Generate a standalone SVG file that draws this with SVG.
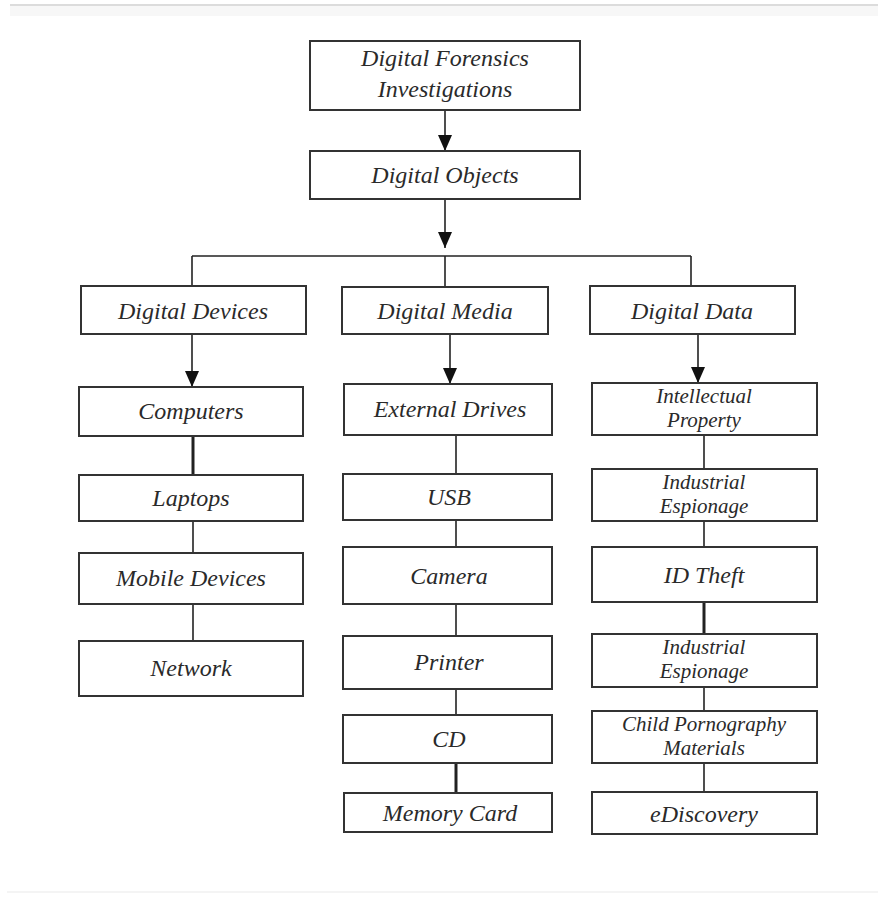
<svg xmlns="http://www.w3.org/2000/svg" width="878" height="897" viewBox="0 0 878 897">
<defs>
<marker id="arr" viewBox="0 0 16 14" markerWidth="16" markerHeight="14" markerUnits="userSpaceOnUse" refX="16" refY="7" orient="auto">
<path d="M0,0 L16,7 L0,14 z" fill="#111"/>
</marker>
<style>
rect.b{fill:#fff;stroke:#333;stroke-width:2}
text{font-family:"Liberation Serif","Times New Roman",serif;font-style:italic;font-size:24px;fill:#2a2a2a;text-anchor:middle}
text.s{font-size:21px}
.c line{stroke:#222;stroke-width:1.6;fill:none}
.c line.t{stroke-width:3}
.c line.a{marker-end:url(#arr)}
</style>
</defs>
<rect width="878" height="897" fill="#fff"/>
<line x1="10" y1="5" x2="878" y2="5" stroke="#dcdcdc" stroke-width="2"/>
<rect x="10" y="6" width="868" height="10" fill="#f7f7f7"/>
<line x1="7" y1="892" x2="878" y2="892" stroke="#f4f4f4" stroke-width="2"/>

<g class="c" id="connectors">
<line class="a" x1="445" y1="110" x2="445" y2="151"/>
<line class="a" x1="445" y1="199" x2="445" y2="248"/>
<line x1="192" y1="256" x2="691" y2="256"/>
<line x1="445" y1="256" x2="445" y2="288"/>
<line x1="192" y1="256" x2="192" y2="287"/>
<line x1="691" y1="256" x2="691" y2="287"/>
<line class="a" x1="192" y1="334" x2="192" y2="387"/>
<line class="a" x1="450" y1="334" x2="450" y2="384"/>
<line class="a" x1="698" y1="334" x2="698" y2="383"/>
<line class="t" x1="193" y1="436" x2="193" y2="475"/>
<line x1="193" y1="521" x2="193" y2="553"/>
<line x1="193" y1="604" x2="193" y2="641"/>
<line x1="456" y1="435" x2="456" y2="474"/>
<line x1="456" y1="520" x2="456" y2="547"/>
<line x1="456" y1="604" x2="456" y2="636"/>
<line x1="456" y1="689" x2="456" y2="715"/>
<line class="t" x1="456" y1="763" x2="456" y2="793"/>
<line x1="704" y1="435" x2="704" y2="469"/>
<line x1="704" y1="521" x2="704" y2="547"/>
<line class="t" x1="704" y1="602" x2="704" y2="634"/>
<line x1="704" y1="687" x2="704" y2="711"/>
<line x1="704" y1="763" x2="704" y2="792"/>
</g>

<g id="n-dfi"><rect class="b" x="310" y="41" width="270" height="69"/><text x="445" y="66">Digital Forensics</text><text x="445" y="97">Investigations</text></g>
<g id="n-objects"><rect class="b" x="310" y="151" width="270" height="48"/><text x="445" y="183">Digital Objects</text></g>

<g id="n-devices"><rect class="b" x="81" y="286" width="225" height="48"/><text x="193" y="319">Digital Devices</text></g>
<g id="n-media"><rect class="b" x="342" y="287" width="206" height="47"/><text x="445" y="319">Digital Media</text></g>
<g id="n-data"><rect class="b" x="590" y="286" width="205" height="48"/><text x="692" y="319">Digital Data</text></g>

<g id="n-computers"><rect class="b" x="79" y="387" width="224" height="49"/><text x="191" y="419">Computers</text></g>
<g id="n-laptops"><rect class="b" x="79" y="475" width="224" height="46"/><text x="191" y="506">Laptops</text></g>
<g id="n-mobile"><rect class="b" x="79" y="553" width="224" height="51"/><text x="191" y="586">Mobile Devices</text></g>
<g id="n-network"><rect class="b" x="79" y="641" width="224" height="55"/><text x="191" y="676">Network</text></g>

<g id="n-extdrives"><rect class="b" x="344" y="384" width="208" height="51"/><text x="450" y="417">External Drives</text></g>
<g id="n-usb"><rect class="b" x="343" y="474" width="209" height="46"/><text x="449" y="505">USB</text></g>
<g id="n-camera"><rect class="b" x="343" y="547" width="209" height="57"/><text x="449" y="584">Camera</text></g>
<g id="n-printer"><rect class="b" x="343" y="636" width="209" height="53"/><text x="449" y="670">Printer</text></g>
<g id="n-cd"><rect class="b" x="343" y="715" width="209" height="48"/><text x="449" y="747">CD</text></g>
<g id="n-memcard"><rect class="b" x="344" y="793" width="208" height="39"/><text x="450" y="821">Memory Card</text></g>

<g id="n-ip"><rect class="b" x="592" y="383" width="225" height="52"/><text class="s" x="704" y="403">Intellectual</text><text class="s" x="704" y="427">Property</text></g>
<g id="n-ie1"><rect class="b" x="592" y="469" width="225" height="52"/><text class="s" x="704" y="489">Industrial</text><text class="s" x="704" y="513">Espionage</text></g>
<g id="n-idtheft"><rect class="b" x="592" y="547" width="225" height="55"/><text x="704" y="583">ID Theft</text></g>
<g id="n-ie2"><rect class="b" x="592" y="634" width="225" height="53"/><text class="s" x="704" y="654">Industrial</text><text class="s" x="704" y="678">Espionage</text></g>
<g id="n-child"><rect class="b" x="592" y="711" width="225" height="52"/><text class="s" x="704" y="731">Child Pornography</text><text class="s" x="704" y="755">Materials</text></g>
<g id="n-ediscovery"><rect class="b" x="592" y="792" width="225" height="42"/><text x="704" y="822">eDiscovery</text></g>
</svg>
